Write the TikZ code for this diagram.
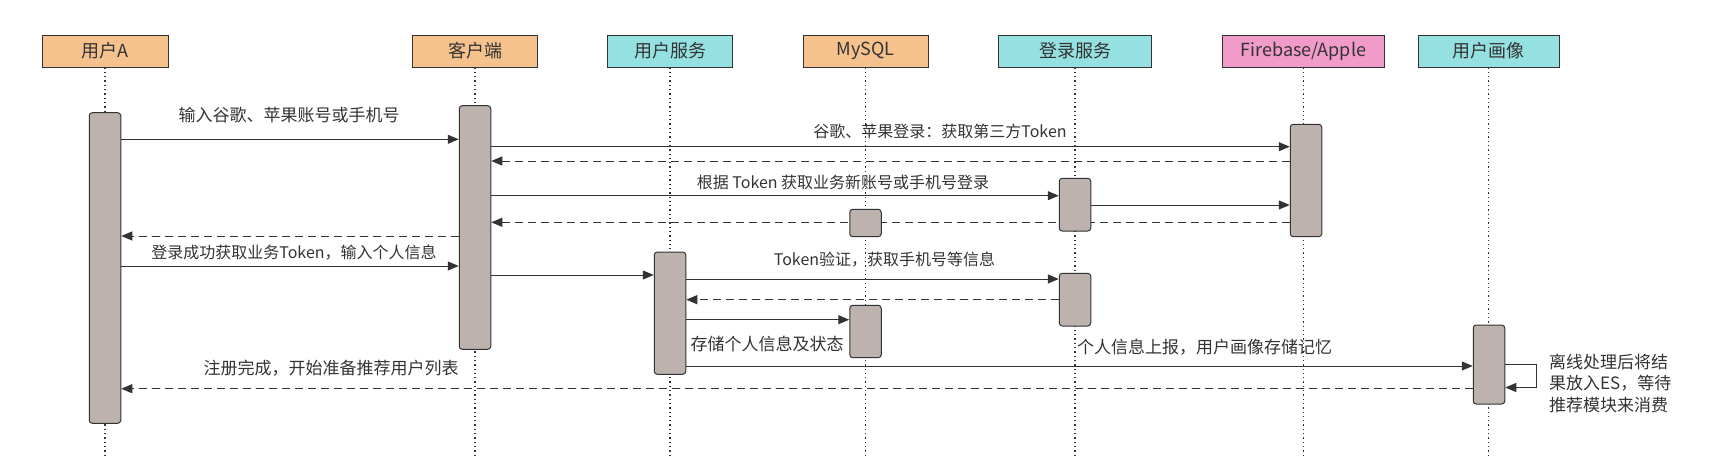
\documentclass[tikz,border=0pt]{standalone}
\usepackage{fontspec}
\setmainfont{Noto Sans CJK SC}
\usetikzlibrary{arrows.meta,backgrounds}
\definecolor{hdorange}{HTML}{F5C28E}
\definecolor{hdcyan}{HTML}{95E0E0}
\definecolor{hdpink}{HTML}{F19BC8}
\definecolor{barfill}{HTML}{BDB2AE}
\definecolor{ink}{HTML}{333333}
\tikzset{
  head/.style={draw=ink, line width=1pt, minimum height=32, inner sep=0, text=ink, font=\fontsize{18}{18}\selectfont},
  bar/.style={draw=ink, fill=barfill, line width=1pt, rounded corners=3, minimum width=31.5, inner sep=0},
  life/.style={draw=ink, line width=1.3pt, dash pattern=on 1.3pt off 3pt},
  msg/.style={draw=ink, line width=1pt, -{Triangle[length=11,width=9]}},
  ret/.style={msg, dash pattern=on 8pt off 5pt},
  lbl/.style={inner sep=0, text=ink, font=\fontsize{17}{17}\selectfont},
  tlbl/.style={lbl, font=\fontsize{16}{16}\selectfont}
}

\begin{document}
\begin{tikzpicture}[x=1pt, y=-1pt]
		%%%%% START %%%%%
		\useasboundingbox (0,0) rectangle (1713,458);

		% participants
		\node[head, fill=hdorange, minimum width=126] (hA) at (105,51) {用户A};
		\node[head, fill=hdorange, minimum width=125.5] (hC) at (475,51) {客户端};
		\node[head, fill=hdcyan, minimum width=125.5] (hU) at (670,51) {用户服务};
		\node[head, fill=hdorange, minimum width=125] (hM) at (865.5,51) {MySQL};
		\node[head, fill=hdcyan, minimum width=153.6] (hL) at (1075,51) {登录服务};
		\node[head, fill=hdpink, minimum width=162] (hF) at (1303.3,51) {Firebase/Apple};
		\node[head, fill=hdcyan, minimum width=141] (hP) at (1488.5,51) {用户画像};

		% activations
		\node[bar, minimum height=310.6] (bA) at (105,268) {};
		\node[bar, minimum height=243.6] (bC) at (475,227.5) {};
		\node[bar, minimum height=112.4] (bF) at (1306,180.5) {};
		\node[bar, minimum height=52.7] (bL1) at (1075,204.65) {};
		\node[bar, minimum height=27.4] (bM1) at (865.5,223) {};
		\node[bar, minimum height=122.3] (bU) at (670,313.15) {};
		\node[bar, minimum height=52.7] (bL2) at (1075,299.65) {};
		\node[bar, minimum height=52.4] (bM2) at (865.5,331.5) {};
		\node[bar, minimum height=79] (bP) at (1489,364.5) {};

		\begin{scope}[on background layer]
		\foreach \h in {hA,hC,hU,hM,hL,hF,hP}
			\draw[life] (\h.south) -- (\h.south |- 0,458);

		% messages
		\draw[msg] (bA.east |- 0,139.3) -- (bC.west |- 0,139.3);
		\draw[msg] (bC.east |- 0,146.7) -- (bF.west |- 0,146.7);
		\draw[ret] (bF.west |- 0,161) -- (bC.east |- 0,161);
		\draw[msg] (bC.east |- 0,195.7) -- (bL1.west |- 0,195.7);
		\draw[msg] (bL1.east |- 0,205) -- (bF.west |- 0,205);
		\draw[ret] (bF.west |- 0,222.3) -- (bC.east |- 0,222.3);
		\draw[ret] (bC.west |- 0,236) -- (bA.east |- 0,236);
		\draw[msg] (bA.east |- 0,266) -- (bC.west |- 0,266);
		\draw[msg] (bC.east |- 0,275) -- (bU.west |- 0,275);
		\draw[msg] (bU.east |- 0,279) -- (bL2.west |- 0,279);
		\draw[ret] (bL2.west |- 0,299.7) -- (bU.east |- 0,299.7);
		\draw[msg] (bU.east |- 0,319.7) -- (bM2.west |- 0,319.7);
		\draw[msg] (bU.east |- 0,366) -- (bP.west |- 0,366);
		\draw[ret] (bP.west |- 0,388.7) -- (bA.east |- 0,388.7);
		\end{scope}

		% self call
		\coordinate (loopR) at (1536.7,364.3);
		\draw[draw=ink, line width=1pt] (bP.east |- 0,364.3) -- (loopR);
		\draw[msg] (loopR) |- (bP.east |- 0,387.5);

		% labels
		\node[lbl] (l1) at (289,115.3) {输入谷歌、苹果账号或手机号};
		\node[tlbl] (l2) at (940,131) {谷歌、苹果登录：获取第三方Token};
		\node[tlbl] (l4) at (843,182.3) {根据 Token 获取业务新账号或手机号登录};
		\node[tlbl] (l8) at (294,252.7) {登录成功获取业务Token，输入个人信息};
		\node[tlbl] (l10) at (884.5,259.3) {Token验证，获取手机号等信息};
		\node[lbl] (l12) at (767,344) {存储个人信息及状态};
		\node[lbl] (l13) at (1204.5,346.7) {个人信息上报，用户画像存储记忆};
		\node[lbl] (l14) at (331,367.7) {注册完成，开始准备推荐用户列表};
		\node[lbl, anchor=west, align=left, font=\fontsize{17}{21.3}\selectfont] (l15) at (1549,383.3) {离线处理后将结\\果放入ES，等待\\推荐模块来消费};

		%%%%% END %%%%%
\end{tikzpicture}
\end{document}
